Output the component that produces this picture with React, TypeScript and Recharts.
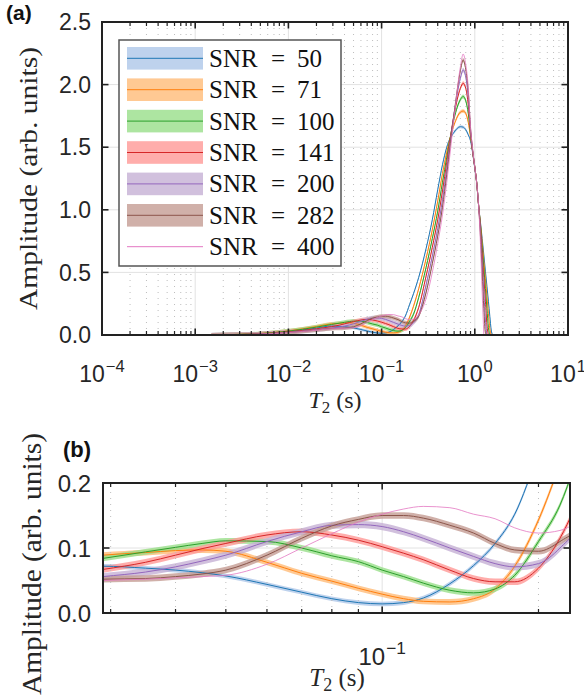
import React from 'react';
import {
  ComposedChart,
  Area,
  Line,
  XAxis,
  YAxis,
  CartesianGrid,
  ReferenceLine,
  ReferenceArea,
} from 'recharts';

// relaxation times (s), shared by both panels
const T2 = [
  0.0015, 0.003, 0.005, 0.01, 0.02, 0.029, 0.035, 0.04, 0.045, 0.05, 0.06, 0.07,
  0.08, 0.09, 0.1, 0.11, 0.12, 0.135, 0.15, 0.165, 0.18, 0.2, 0.22, 0.25, 0.3,
  0.35, 0.4, 0.45, 0.5, 0.6, 0.7, 0.75, 0.8, 0.85, 0.9, 0.95, 1.0, 1.05, 1.1,
  1.15, 1.2, 1.25, 1.3, 1.35, 1.4, 1.45, 1.5, 1.55,
];

const SNR = [50, 71, 100, 141, 200, 282, 400];

const SNR_50 = [
  0, 0.004, 0.01, 0.028, 0.055, 0.072, 0.069, 0.066, 0.062, 0.057, 0.044, 0.032,
  0.022, 0.016, 0.014, 0.016, 0.023, 0.045, 0.073, 0.107, 0.152, 0.245, 0.33, 0.46,
  0.69, 0.92, 1.16, 1.36, 1.5, 1.62, 1.664, 1.66, 1.64, 1.6, 1.55, 1.45, 1.33,
  1.21, 1.03, 0.9, 0.77, 0.64, 0.51, 0.39, 0.27, 0.15, 0.04, 0,
];
const SNR_71 = [
  0, 0.005, 0.012, 0.033, 0.068, 0.089, 0.093, 0.096, 0.097, 0.095, 0.078, 0.061,
  0.049, 0.038, 0.029, 0.022, 0.018, 0.017, 0.022, 0.037, 0.072, 0.143, 0.23, 0.37,
  0.61, 0.84, 1.07, 1.29, 1.46, 1.68, 1.78, 1.789, 1.77, 1.7, 1.58, 1.46, 1.34,
  1.21, 1.03, 0.89, 0.74, 0.59, 0.45, 0.31, 0.17, 0.05, 0, null,
];
const SNR_100 = [
  0, 0.005, 0.011, 0.031, 0.063, 0.084, 0.094, 0.101, 0.107, 0.111, 0.11, 0.1,
  0.088, 0.079, 0.066, 0.056, 0.046, 0.035, 0.031, 0.037, 0.058, 0.11, 0.166, 0.3,
  0.54, 0.77, 0.99, 1.22, 1.42, 1.73, 1.88, 1.905, 1.87, 1.77, 1.6, 1.46, 1.34,
  1.21, 1.03, 0.88, 0.7, 0.54, 0.37, 0.21, 0.06, 0, null, null,
];
const SNR_141 = [
  0, 0.004, 0.009, 0.025, 0.05, 0.067, 0.078, 0.089, 0.099, 0.107, 0.12, 0.125,
  0.12, 0.112, 0.102, 0.092, 0.082, 0.066, 0.053, 0.048, 0.048, 0.069, 0.115, 0.22,
  0.47, 0.7, 0.92, 1.15, 1.38, 1.76, 1.97, 2.01, 1.97, 1.84, 1.62, 1.46, 1.34,
  1.21, 1.03, 0.86, 0.65, 0.46, 0.27, 0.08, 0, null, null, null,
];
const SNR_200 = [
  0, 0.003, 0.008, 0.021, 0.042, 0.056, 0.063, 0.071, 0.08, 0.089, 0.11, 0.125,
  0.135, 0.136, 0.133, 0.125, 0.115, 0.1, 0.087, 0.076, 0.071, 0.076, 0.1, 0.16,
  0.4, 0.63, 0.85, 1.08, 1.33, 1.77, 2.05, 2.117, 2.06, 1.9, 1.64, 1.47, 1.34,
  1.21, 1.03, 0.83, 0.58, 0.35, 0.12, 0, null, null, null, null,
];
const SNR_282 = [
  0, 0.003, 0.007, 0.02, 0.04, 0.052, 0.053, 0.056, 0.06, 0.066, 0.089, 0.115,
  0.134, 0.144, 0.15, 0.15, 0.146, 0.135, 0.123, 0.107, 0.097, 0.095, 0.11, 0.15,
  0.34, 0.57, 0.79, 1.02, 1.28, 1.77, 2.11, 2.196, 2.12, 1.95, 1.65, 1.47, 1.34,
  1.21, 1.03, 0.79, 0.5, 0.21, 0.02, 0, null, null, null, null,
];
const SNR_400 = [
  0, 0.003, 0.007, 0.019, 0.038, 0.05, 0.052, 0.054, 0.056, 0.058, 0.075, 0.1,
  0.122, 0.14, 0.152, 0.16, 0.164, 0.162, 0.152, 0.145, 0.131, 0.123, 0.127, 0.16,
  0.29, 0.5, 0.73, 0.96, 1.22, 1.74, 2.14, 2.244, 2.16, 1.98, 1.66, 1.48, 1.34,
  1.21, 1.03, 0.73, 0.34, 0, null, null, null, null, null, null,
];

const SERIES = [SNR_50, SNR_71, SNR_100, SNR_141, SNR_200, SNR_282, SNR_400];

// half-width of the shaded band around each mean curve (last one has none)
const SPREAD_A = [0.012, 0.014, 0.016, 0.016, 0.018, 0.016, 0];
const SPREAD_B = [0.0035, 0.0045, 0.0045, 0.005, 0.0055, 0.005, 0];

const LINE_COLORS = ['#1f77b4', '#ff7f0e', '#2ca02c', '#d62728', '#9467bd', '#8c564b', '#e377c2'];
const BAND_COLORS = ['#aec7e8', '#ffbb78', '#98df8a', '#ff9896', '#c5b0d5', '#c49c94', null];

const DECADES_A = [1e-4, 1e-3, 1e-2, 1e-1, 1, 10];
const MINOR_A = [1e-4, 1e-3, 1e-2, 1e-1, 1].flatMap((d) =>
  [2, 3, 4, 5, 6, 7, 8, 9].map((k) => k * d)
);
const Y_TICKS_A = [0, 0.5, 1, 1.5, 2, 2.5];

const DECADES_B = [0.1];
const MINOR_B = [0.03, 0.04, 0.05, 0.06, 0.07, 0.08, 0.09, 0.2];
const Y_TICKS_B = [0, 0.1, 0.2];

const INK = '#222222';
const TEXT = '#262626';
const SANS = '"Liberation Sans", Arial, Helvetica, sans-serif';
const SERIF = '"Liberation Serif", "Times New Roman", serif';

type Margin = { top: number; right: number; bottom: number; left: number };

type PanelConfig = {
  top: number;
  width: number;
  height: number;
  margin: Margin;
  xDomain: [number, number];
  yDomain: [number, number];
  xMajor: number[];
  xMinor: number[];
  yTicks: number[];
  spread: number[];
  fontSize: number;
  labelBaseline: number;
  yTickMargin: number;
};

const PANEL_A: PanelConfig = {
  top: 0,
  width: 584,
  height: 400,
  margin: { top: 22, right: 16, bottom: 64, left: 101 },
  xDomain: [1e-4, 10],
  yDomain: [0, 2.5],
  xMajor: DECADES_A,
  xMinor: MINOR_A,
  yTicks: Y_TICKS_A,
  spread: SPREAD_A,
  fontSize: 23,
  labelBaseline: 47,
  yTickMargin: 11,
};

const PANEL_B: PanelConfig = {
  top: 440,
  width: 584,
  height: 258,
  margin: { top: 43, right: 14, bottom: 84, left: 102 },
  xDomain: [0.029, 0.23],
  yDomain: [0, 0.2],
  xMajor: DECADES_B,
  xMinor: MINOR_B,
  yTicks: Y_TICKS_B,
  spread: SPREAD_B,
  fontSize: 24,
  labelBaseline: 52,
  yTickMargin: 12,
};

function buildRows(spread: number[]) {
  return T2.map((t, j) => {
    const row: Record<string, number | null> = { t2: t };
    SERIES.forEach((s, i) => {
      const v = s[j];
      row[`v${i}`] = v;
      row[`lo${i}`] = v == null ? null : v - spread[i];
      row[`hi${i}`] = v == null ? null : v + spread[i];
    });
    return row;
  });
}

function PowTick(props: any) {
  const { x, y, payload, size, baseline } = props;
  const e = Math.round(Math.log10(payload.value));
  const exp = e < 0 ? '\u2212' + Math.abs(e) : String(e);
  return (
    <text x={x} y={y + baseline} textAnchor='middle' fontFamily={SANS} fontSize={size} fill={TEXT}>
      10
      <tspan dx={1} dy={-size * 0.45} fontSize={size * 0.72}>
        {exp}
      </tspan>
    </text>
  );
}

function plotRect(cfg: PanelConfig) {
  const { margin } = cfg;
  return {
    left: margin.left + 1,
    right: cfg.width - margin.right,
    top: cfg.top + margin.top,
    bottom: cfg.top + cfg.height - margin.bottom - 1,
  };
}

function Panel({ cfg }: { cfg: PanelConfig }) {
  const { width, height, margin, xDomain, yDomain, xMajor, xMinor, yTicks, spread, fontSize } = cfg;
  const data = buildRows(spread);
  const [x0, x1] = xDomain;
  const [y0, y1] = yDomain;

  return (
    <ComposedChart width={width} height={height} data={data} margin={margin}>
      <CartesianGrid xAxisId='x' yAxisId='y' stroke='#e2e2e2' strokeWidth={1} />
      {xMinor
        .filter((v) => v > x0 && v < x1)
        .map((v) => (
          <ReferenceLine
            key={`mg-${v}`}
            xAxisId='x'
            yAxisId='y'
            x={v}
            stroke='#bdbdbd'
            strokeWidth={1}
            strokeDasharray='1 5'
          />
        ))}

      {SERIES.map((_, i) =>
        spread[i] > 0 ? (
          <Area
            key={`band-${i}`}
            xAxisId='x'
            yAxisId='y'
            type='monotone'
            dataKey={(r: any) => (r[`lo${i}`] == null ? null : [r[`lo${i}`], r[`hi${i}`]])}
            stroke='none'
            fill={BAND_COLORS[i] as string}
            fillOpacity={0.8}
            isAnimationActive={false}
            activeDot={false}
          />
        ) : null
      )}
      {SERIES.map((_, i) => (
        <Line
          key={`line-${i}`}
          xAxisId='x'
          yAxisId='y'
          type='monotone'
          dataKey={`v${i}`}
          stroke={LINE_COLORS[i]}
          strokeWidth={i === 6 ? 0.8 : 1}
          dot={false}
          activeDot={false}
          isAnimationActive={false}
        />
      ))}

      <ReferenceArea
        xAxisId='x'
        yAxisId='y'
        x1={x0}
        x2={x1}
        y1={y0}
        y2={y1}
        fill='none'
        fillOpacity={0}
        stroke={INK}
        strokeWidth={2}
        strokeOpacity={1}
        ifOverflow='visible'
      />

      <XAxis
        xAxisId='x'
        dataKey='t2'
        type='number'
        scale='log'
        domain={xDomain}
        allowDataOverflow
        ticks={xMajor}
        interval={0}
        height={1}
        tickSize={0}
        tickMargin={0}
        stroke={INK}
        axisLine={{ stroke: INK, strokeWidth: 2 }}
        tickLine={false}
        tick={(p: any) => <PowTick {...p} size={fontSize} baseline={cfg.labelBaseline} />}
      />
      <YAxis
        yAxisId='y'
        type='number'
        domain={yDomain}
        allowDataOverflow
        ticks={yTicks}
        interval={0}
        width={1}
        tickSize={0}
        tickMargin={cfg.yTickMargin}
        stroke={INK}
        axisLine={{ stroke: INK, strokeWidth: 2 }}
        tickLine={false}
        tickFormatter={(v: number) => v.toFixed(1)}
        tick={{ fontSize, fill: TEXT, fontFamily: SANS }}
      />
    </ComposedChart>
  );
}

// inward tick marks (MATLAB style) drawn as small filled rects
function TickMarks({ cfg }: { cfg: PanelConfig }) {
  const { xDomain, yDomain, xMajor, xMinor, yTicks } = cfg;
  const { left, right, top, bottom } = plotRect(cfg);
  const lx0 = Math.log10(xDomain[0]);
  const lx1 = Math.log10(xDomain[1]);
  const px = (v: number) => left + ((Math.log10(v) - lx0) / (lx1 - lx0)) * (right - left);
  const py = (v: number) => bottom - ((v - yDomain[0]) / (yDomain[1] - yDomain[0])) * (bottom - top);
  const inX = (v: number) => v > xDomain[0] && v < xDomain[1];
  const inY = (v: number) => v > yDomain[0] && v < yDomain[1];

  return (
    <g>
      {xMinor.filter(inX).map((v) => (
        <g key={`m${v}`}>
          <rect x={px(v) - 0.6} y={bottom - 4} width={1.2} height={4} fill={INK} />
          <rect x={px(v) - 0.6} y={top} width={1.2} height={4} fill={INK} />
        </g>
      ))}
      {xMajor.filter(inX).map((v) => (
        <g key={`M${v}`}>
          <rect x={px(v) - 0.8} y={bottom - 6.5} width={1.6} height={6.5} fill={INK} />
          <rect x={px(v) - 0.8} y={top} width={1.6} height={6.5} fill={INK} />
        </g>
      ))}
      {yTicks.filter(inY).map((v) => (
        <g key={`y${v}`}>
          <rect x={left} y={py(v) - 0.8} width={6.5} height={1.6} fill={INK} />
          <rect x={right - 6.5} y={py(v) - 0.8} width={6.5} height={1.6} fill={INK} />
        </g>
      ))}
    </g>
  );
}

// axes box as an html border around the plot area
function FrameBox({ cfg }: { cfg: PanelConfig }) {
  const { left, right, top, bottom } = plotRect(cfg);
  return (
    <div
      style={{
        position: 'absolute',
        left: left - 1,
        top: top - 1,
        width: right - left + 2,
        height: bottom - top + 2,
        border: `2px solid ${INK}`,
        boxSizing: 'border-box',
        pointerEvents: 'none',
      }}
    />
  );
}

function LegendBox() {
  return (
    <g>
      <rect x={119} y={40} width={222} height={226} fill='#fff' stroke='#555' strokeWidth={1.5} />
      {SNR.map((s, i) => {
        const cy = 58.3 + i * 31.4;
        return (
          <g key={s}>
            {BAND_COLORS[i] && (
              <rect x={127} y={cy - 11.3} width={76} height={22.6} fill={BAND_COLORS[i] as string} fillOpacity={0.8} />
            )}
            <line x1={127} x2={203} y1={cy} y2={cy} stroke={LINE_COLORS[i]} strokeWidth={1} />
            <text x={209} y={cy + 8.5} fontFamily={SERIF} fontSize={25} fill='#111'>
              SNR
            </text>
            <text x={278} y={cy + 8.5} textAnchor='middle' fontFamily={SERIF} fontSize={25} fill='#111'>
              =
            </text>
            <text x={297} y={cy + 8.5} fontFamily={SERIF} fontSize={25} fill='#111'>
              {s}
            </text>
          </g>
        );
      })}
    </g>
  );
}

export default function App() {
  return (
    <div
      style={{
        position: 'absolute',
        left: 0,
        top: 0,
        width: 584,
        height: 698,
        background: '#fff',
        overflow: 'hidden',
      }}
    >
      <div style={{ position: 'absolute', left: 0, top: PANEL_A.top }}>
        <Panel cfg={PANEL_A} />
      </div>
      <div style={{ position: 'absolute', left: 0, top: PANEL_B.top }}>
        <Panel cfg={PANEL_B} />
      </div>
      <svg
        width={584}
        height={698}
        style={{ position: 'absolute', left: 0, top: 0, pointerEvents: 'none' }}
      >
        <TickMarks cfg={PANEL_A} />
        <TickMarks cfg={PANEL_B} />
        <text x={6} y={20} fontFamily={SANS} fontWeight='bold' fontSize={21} fill='#111'>
          (a)
        </text>
        <text x={63} y={457} fontFamily={SANS} fontWeight='bold' fontSize={22} fill='#111'>
          (b)
        </text>
        <text
          transform='translate(37 178.5) rotate(-90)'
          textAnchor='middle'
          fontFamily={SERIF}
          fontSize={25}
          textLength={263}
          lengthAdjust='spacingAndGlyphs'
          fill={TEXT}
        >
          Amplitude (arb. units)
        </text>
        <text
          transform='translate(41 433) rotate(-90)'
          textAnchor='end'
          fontFamily={SERIF}
          fontSize={27}
          textLength={262}
          lengthAdjust='spacingAndGlyphs'
          fill={TEXT}
        >
          Amplitude (arb. units)
        </text>
        <text x={335} y={408} textAnchor='middle' fontFamily={SERIF} fontSize={24} fill={TEXT}>
          <tspan fontStyle='italic'>T</tspan>
          <tspan fontSize={17} dy={5}>
            2
          </tspan>
          <tspan dy={-5}>{' (s)'}</tspan>
        </text>
        <text x={337} y={686} textAnchor='middle' fontFamily={SERIF} fontSize={25} fill={TEXT}>
          <tspan fontStyle='italic'>T</tspan>
          <tspan fontSize={18} dy={5}>
            2
          </tspan>
          <tspan dy={-5}>{' (s)'}</tspan>
        </text>
        <LegendBox />
      </svg>
      <FrameBox cfg={PANEL_A} />
      <FrameBox cfg={PANEL_B} />
    </div>
  );
}
